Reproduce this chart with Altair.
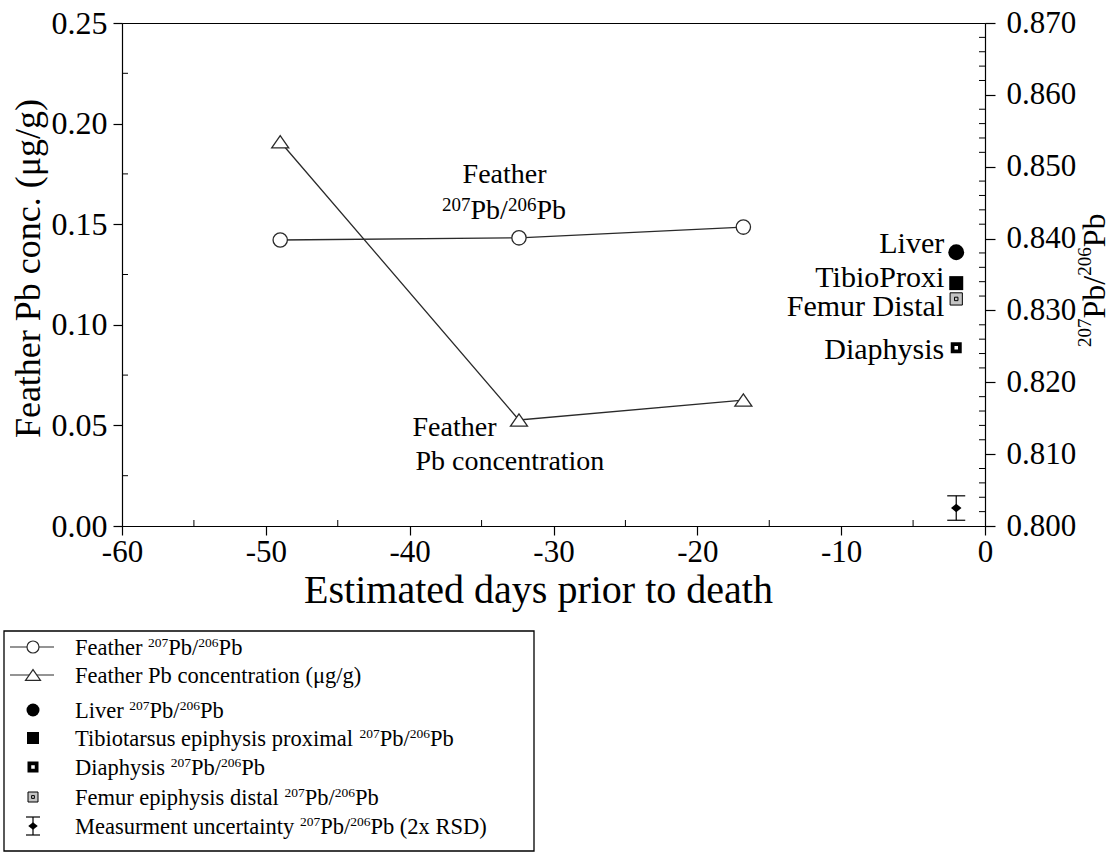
import altair as alt
import pandas as pd

FONT = "Liberation Serif"
INK = "#2a2a2a"

# ---- feather time series ----
feather_days = [-49.0, -32.4, -16.8]
feather_ratio = [0.8398, 0.8401, 0.8416]      # 207Pb/206Pb (right axis)
feather_conc = [0.191, 0.0527, 0.0626]        # Pb ug/g (left axis)

# ---- tissue ratios measured at death ----
tissue_names = ["Liver", "TibioProxi", "Femur Distal", "Diaphysis"]
tissue_ratio = [0.8381, 0.8338, 0.8316, 0.8248]
tissue_label_ratio = [0.8390, 0.8343, 0.8302, 0.8242]   # where each name sits
tissue_day = -2.0

# ---- measurement uncertainty (2x RSD) ----
uncert_ratio = 0.8025
uncert_half = 0.0017

# ---- axis ticks ----
x_ticks = [-60, -50, -40, -30, -20, -10, 0]
x_minor = [-55, -45, -35, -25, -15, -5]
conc_ticks = [0.0, 0.05, 0.10, 0.15, 0.20, 0.25]
conc_minor = [0.025, 0.075, 0.125, 0.175, 0.225]
ratio_ticks = [0.80, 0.81, 0.82, 0.83, 0.84, 0.85, 0.86, 0.87]
ratio_minor = [round(0.800 + 0.002 * i, 3) for i in range(36) if i % 5]

# ---- notes inside the plot (^...^ marks superscript) ----
note_upper_day = [-33.4]
note_upper_conc = [0.1744]
note_upper_text = ["Feather"]
note_lower_day = [-39.8, -39.6]
note_lower_conc = [0.0487, 0.0318]
note_lower_text = ["Feather", "Pb concentration"]
RATIO_MARKUP = "^207^Pb/^206^Pb"

# ---- legend ----
legend_labels = [
    "Feather " + RATIO_MARKUP,
    "Feather Pb concentration (\u03bcg/g)",
    "Liver " + RATIO_MARKUP,
    "Tibiotarsus epiphysis proximal " + RATIO_MARKUP,
    "Diaphysis " + RATIO_MARKUP,
    "Femur epiphysis distal " + RATIO_MARKUP,
    "Measurment uncertainty " + RATIO_MARKUP + "  (2x RSD)",
]

# ---- page layout (pixels) ----
PAGE_W, PAGE_H = 1113, 853
PLOT_W, PLOT_H = 863, 503
PAD_L, PAD_T = 122, 23
LEG = dict(x0=4, x1=534, y0=631, y1=851,
           rows=[647, 675, 710, 738, 767, 797, 826],
           sym_x=33, line_x0=10, line_x1=54, text_x=75)

# Times / Liberation Serif advance widths (1/1000 em)
ADV = {" ": 250, "(": 333, ")": 333, "/": 278, ".": 250, "-": 333, "\u03bc": 500}
ADV.update({d: 500 for d in "0123456789"})
ADV.update(dict(zip("ABCDEFGHIJKLMNOPQRSTUVWXYZ",
                    [722, 667, 667, 722, 611, 556, 722, 722, 333, 389, 722, 611, 889,
                     722, 722, 556, 722, 667, 556, 611, 722, 722, 944, 722, 722, 611])))
ADV.update(dict(zip("abcdefghijklmnopqrstuvwxyz",
                    [444, 500, 444, 500, 444, 333, 500, 500, 278, 278, 500, 278, 778,
                     500, 500, 500, 500, 333, 389, 278, 500, 500, 722, 500, 500, 444])))


def width(s, fs):
    return sum(ADV.get(c, 500) for c in s) * fs / 1000.0


def typeset(markup, x, y, fs, sfs, lift, angle=0, anchor="left"):
    """Split a ^sup^ markup string into positioned text runs (page pixels)."""
    segs = [(s, i % 2 == 1) for i, s in enumerate(markup.split("^")) if s]
    total = sum(width(s, sfs if sup else fs) for s, sup in segs)
    adv = -total / 2 if anchor == "center" else 0.0
    out = []
    for s, sup in segs:
        size = sfs if sup else fs
        if angle == 270:
            out.append(dict(px=x - (lift if sup else 0), py=y - adv, t=s, fs=size, ang=270))
        else:
            out.append(dict(px=x + adv, py=y - (lift if sup else 0), t=s, fs=size, ang=0))
        adv += width(s, size)
    return out


runs = []
runs += typeset(RATIO_MARKUP, 504, 219, 28, 19, 8, anchor="center")           # upper note, 2nd line
runs += typeset(RATIO_MARKUP, 1105, 347, 32, 19, 14, angle=270)                # right axis title
for lab, cy in zip(legend_labels, LEG["rows"]):
    runs += typeset(lab, LEG["text_x"], cy + 7.5, 22.5, 13.5, 8)
runs = pd.DataFrame(runs)

# custom symbol paths (unit square -1..1)
TRI = "M-1,0.72L1,0.72L0,-0.72Z"
DIAPH = "M-1,-1L1,-1L1,1L-1,1Z M-0.32,-0.32L-0.32,0.32L0.32,0.32L0.32,-0.32Z"
FEMUR = "M-1,-1L1,-1L1,1L-1,1Z M-0.28,-0.28L0.28,-0.28L0.28,0.28L-0.28,0.28Z"
DIAMOND = "M-1,0L0,-0.8L1,0L0,0.8Z"

# ---- scales & encodings ----
xs = alt.Scale(domain=[-60, 0], nice=False, zero=False)
yl = alt.Scale(domain=[0, 0.25], nice=False, zero=False)
yr = alt.Scale(domain=[0.80, 0.87], nice=False, zero=False)

x_axis = alt.Axis(values=x_ticks, orient="bottom", title="Estimated days prior to death",
                  labelExpr="'' + datum.value", tickSize=9, labelPadding=2,
                  labelFontSize=31, titleFontSize=40, titleAlign="center",
                  titleBaseline="alphabetic", titleX=416, titleY=76)
yl_axis = alt.Axis(values=conc_ticks, orient="left", format=".2f",
                   title="Feather Pb conc. (\u03bcg/g)", tickSize=9, labelPadding=6,
                   labelFontSize=32, titleFontSize=36, titleAngle=270, titleAlign="center",
                   titleBaseline="alphabetic", titleX=-83, titleY=245)
yr_axis = alt.Axis(values=ratio_ticks, orient="right", format=".3f", title="",
                   tickSize=10, labelPadding=11, labelFontSize=31)

XL = alt.X("day:Q", scale=xs, axis=x_axis)
XR = alt.X("day:Q", scale=xs, axis=None)
YL = alt.Y("conc:Q", scale=yl, axis=yl_axis)
YR = alt.Y("ratio:Q", scale=yr, axis=yr_axis)

feather = pd.DataFrame({"day": feather_days, "ratio": feather_ratio, "conc": feather_conc})
tissues = pd.DataFrame({"day": [tissue_day] * 4, "ratio": tissue_ratio, "name": tissue_names})
tissue_labels = pd.DataFrame({"day": [tissue_day] * 4, "ratio": tissue_label_ratio,
                              "name": tissue_names})
uncert = pd.DataFrame({"day": [tissue_day], "ratio": [uncert_ratio],
                       "lo": [uncert_ratio - uncert_half], "hi": [uncert_ratio + uncert_half]})

# ---- left (concentration) group ----
conc_line = alt.Chart(feather).mark_line(color=INK, strokeWidth=1.3).encode(x=XL, y=YL)
conc_pts = alt.Chart(feather).mark_point(shape=TRI, size=289, filled=True, fill="white",
                                         stroke=INK, strokeWidth=1.3, opacity=1).encode(x=XL, y=YL)
x_minor_ticks = alt.Chart(pd.DataFrame({"day": x_minor})).mark_rule(color="black").encode(
    x=XL, y=alt.value(PLOT_H), y2=alt.value(PLOT_H - 6))
yl_minor_ticks = alt.Chart(pd.DataFrame({"conc": conc_minor})).mark_rule(color="black").encode(
    y=YL, x=alt.value(0), x2=alt.value(6))
note_up = alt.Chart(pd.DataFrame({"day": note_upper_day, "conc": note_upper_conc,
                                  "t": note_upper_text})).mark_text(
    font=FONT, fontSize=28, align="center", baseline="middle", color="black").encode(
    x=XL, y=YL, text="t:N")
note_low = alt.Chart(pd.DataFrame({"day": note_lower_day, "conc": note_lower_conc,
                                   "t": note_lower_text})).mark_text(
    font=FONT, fontSize=28, align="left", baseline="middle", color="black").encode(
    x=XL, y=YL, text="t:N")
left = alt.layer(conc_line, conc_pts, x_minor_ticks, yl_minor_ticks, note_up, note_low)

# ---- right (isotope ratio) group ----
ratio_line = alt.Chart(feather).mark_line(color=INK, strokeWidth=1.3).encode(x=XR, y=YR)
ratio_pts = alt.Chart(feather).mark_point(shape="circle", size=205, filled=True, fill="white",
                                          stroke=INK, strokeWidth=1.3, opacity=1).encode(x=XR, y=YR)


def tissue(n):
    return alt.Chart(tissues).transform_filter(alt.datum.name == n)


liver = tissue("Liver").mark_point(shape="circle", size=250, filled=True, color="black",
                                   opacity=1).encode(x=XR, y=YR)
tibio = tissue("TibioProxi").mark_point(shape="square", size=196, filled=True, color="black",
                                        opacity=1).encode(x=XR, y=YR)
femur = tissue("Femur Distal").mark_point(shape=FEMUR, size=150, filled=True, fill="#c4c4c4",
                                          stroke="black", strokeWidth=1, opacity=1).encode(x=XR, y=YR)
diaph = tissue("Diaphysis").mark_point(shape=DIAPH, size=121, filled=True, color="black",
                                       opacity=1).encode(x=XR, y=YR)
tissue_text = alt.Chart(tissue_labels).mark_text(font=FONT, fontSize=30, align="right",
                                                 baseline="middle", dx=-12, dy=-2,
                                                 color="black").encode(x=XR, y=YR, text="name:N")
unc_bar = alt.Chart(uncert).mark_rule(color="black", strokeWidth=1.2).encode(
    x=XR, y=alt.Y("lo:Q", scale=yr, axis=yr_axis), y2="hi:Q")
unc_lo = alt.Chart(uncert).mark_rule(color="black", strokeWidth=1.2, xOffset=-9, x2Offset=9).encode(
    x=XR, x2="day:Q", y=alt.Y("lo:Q", scale=yr, axis=yr_axis))
unc_hi = alt.Chart(uncert).mark_rule(color="black", strokeWidth=1.2, xOffset=-9, x2Offset=9).encode(
    x=XR, x2="day:Q", y=alt.Y("hi:Q", scale=yr, axis=yr_axis))
unc_pt = alt.Chart(uncert).mark_point(shape=DIAMOND, size=110, filled=True, color="black",
                                      opacity=1).encode(x=XR, y=YR)
yr_minor_ticks = alt.Chart(pd.DataFrame({"ratio": ratio_minor})).mark_rule(color="black").encode(
    y=YR, x=alt.value(PLOT_W - 6), x2=alt.value(PLOT_W))
right = alt.layer(ratio_line, ratio_pts, liver, tibio, femur, diaph, tissue_text,
                  unc_bar, unc_lo, unc_hi, unc_pt, yr_minor_ticks)

# ---- page-pixel group: legend box and typeset (superscripted) text ----
px = alt.Scale(domain=[0, PAGE_W], range=[-PAD_L, PAGE_W - PAD_L])
py = alt.Scale(domain=[0, PAGE_H], range=[-PAD_T, PAGE_H - PAD_T])
PX = alt.X("x:Q", scale=px, axis=None)
PY = alt.Y("y:Q", scale=py, axis=None)
rows = LEG["rows"]


def sym(i):
    return pd.DataFrame({"x": [LEG["sym_x"]], "y": [rows[i]]})


box = alt.Chart(pd.DataFrame({"x": [LEG["x0"]], "x2": [LEG["x1"]],
                              "y": [LEG["y0"]], "y2": [LEG["y1"]]})).mark_rect(
    fill="white", stroke="black", strokeWidth=1.3).encode(x=PX, x2="x2:Q", y=PY, y2="y2:Q")
leg_lines = alt.Chart(pd.DataFrame({"x": [LEG["line_x0"]] * 2, "x2": [LEG["line_x1"]] * 2,
                                    "y": rows[:2]})).mark_rule(color=INK, strokeWidth=1.2).encode(
    x=PX, x2="x2:Q", y=PY)
leg_circ = alt.Chart(sym(0)).mark_point(shape="circle", size=144, filled=True, fill="white",
                                        stroke=INK, strokeWidth=1.2, opacity=1).encode(x=PX, y=PY)
leg_tri = alt.Chart(sym(1)).mark_point(shape=TRI, size=225, filled=True, fill="white",
                                       stroke=INK, strokeWidth=1.2, opacity=1).encode(x=PX, y=PY)
leg_liver = alt.Chart(sym(2)).mark_point(shape="circle", size=169, filled=True, color="black",
                                         opacity=1).encode(x=PX, y=PY)
leg_tibio = alt.Chart(sym(3)).mark_point(shape="square", size=144, filled=True, color="black",
                                         opacity=1).encode(x=PX, y=PY)
leg_diaph = alt.Chart(sym(4)).mark_point(shape=DIAPH, size=121, filled=True, color="black",
                                         opacity=1).encode(x=PX, y=PY)
leg_femur = alt.Chart(sym(5)).mark_point(shape=FEMUR, size=100, filled=True, fill="#c4c4c4",
                                         stroke="black", strokeWidth=1, opacity=1).encode(x=PX, y=PY)
leg_unc_bar = alt.Chart(sym(6)).mark_rule(color="black", strokeWidth=1.2, yOffset=-9,
                                          y2Offset=9).encode(x=PX, y=PY, y2="y:Q")
leg_unc_top = alt.Chart(sym(6)).mark_rule(color="black", strokeWidth=1.2, xOffset=-7, x2Offset=7,
                                          yOffset=-9).encode(x=PX, x2="x:Q", y=PY)
leg_unc_bot = alt.Chart(sym(6)).mark_rule(color="black", strokeWidth=1.2, xOffset=-7, x2Offset=7,
                                          yOffset=9).encode(x=PX, x2="x:Q", y=PY)
leg_unc_pt = alt.Chart(sym(6)).mark_point(shape=DIAMOND, size=90, filled=True, color="black",
                                          opacity=1).encode(x=PX, y=PY)
typeset_text = alt.Chart(runs).mark_text(font=FONT, align="left", baseline="alphabetic",
                                         color="black").encode(
    x=alt.X("px:Q", scale=px, axis=None), y=alt.Y("py:Q", scale=py, axis=None),
    text="t:N", size=alt.Size("fs:Q", scale=None), angle=alt.Angle("ang:Q", scale=None))
page = alt.layer(box, leg_lines, leg_circ, leg_tri, leg_liver, leg_tibio, leg_diaph, leg_femur,
                 leg_unc_bar, leg_unc_top, leg_unc_bot, leg_unc_pt, typeset_text)

chart = alt.layer(left, right, page).resolve_scale(
    x="independent", y="independent"
).properties(
    width=PLOT_W, height=PLOT_H,
    padding={"left": PAD_L, "top": PAD_T, "right": PAGE_W - PAD_L - PLOT_W,
             "bottom": PAGE_H - PAD_T - PLOT_H},
    autosize=alt.AutoSizeParams(type="none"),
    background="white",
).configure_view(
    stroke="black", strokeWidth=1
).configure_axis(
    grid=False, domainColor="black", domainWidth=1.2, tickColor="black", tickWidth=1.2,
    labelFont=FONT, titleFont=FONT, labelColor="black", titleColor="black",
    titleFontWeight="normal", labelFlush=False, labelOverlap=False,
)

chart.save("out.html", embed_options={"renderer": "svg", "actions": False})
